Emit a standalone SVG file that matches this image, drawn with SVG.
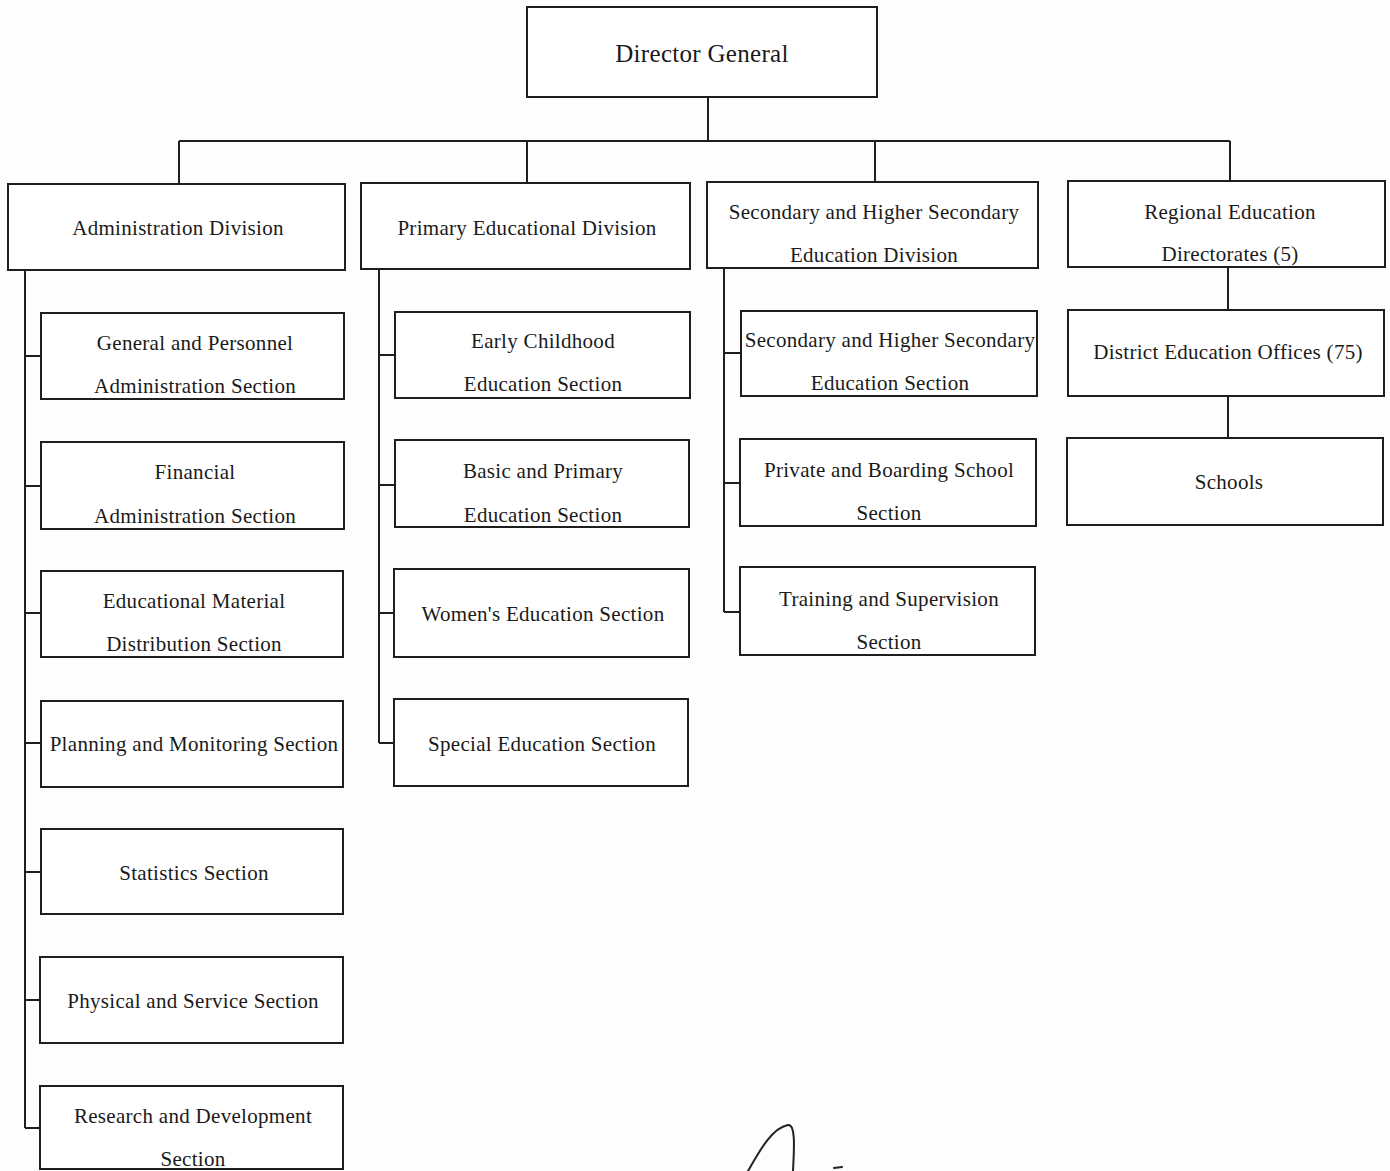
<svg xmlns="http://www.w3.org/2000/svg" width="1390" height="1171" viewBox="0 0 1390 1171">
  <style>
    .box { fill: #ffffff; stroke: #1e1e1e; stroke-width: 2; }
    .lbl { font-family: "Liberation Serif", "Times New Roman", serif; font-size: 21px; letter-spacing: 0.3px; fill: #1a1a1a; text-anchor: middle; }
    .big { font-size: 25px; }
    .wire { fill: none; stroke: #1e1e1e; stroke-width: 2; }
    .ink { fill: none; stroke: #222222; stroke-width: 2; stroke-linecap: round; }
  </style>
  <rect width="1390" height="1171" fill="#fdfdfd"/>

  <!-- connectors -->
  <g id="connectors" class="wire">
    <path d="M708 97 V141 M179 141 H1230 M179 141 V184 M527 141 V183 M875 141 V182 M1230 141 V181"/>
    <!-- administration branch -->
    <path d="M25 270 V1128 M25 356 H41 M25 486 H41 M25 613 H41 M25 743 H41 M25 872 H41 M25 1000 H41 M25 1128 H41"/>
    <!-- primary branch -->
    <path d="M379 269 V743 M379 355 H395 M379 485 H395 M379 613 H395 M379 743 H395"/>
    <!-- secondary branch -->
    <path d="M724 268 V612 M724 353 H741 M724 483 H741 M724 612 H741"/>
    <!-- regional chain -->
    <path d="M1228 267 V310 M1228 396 V438"/>
  </g>

  <g id="director-general">
    <rect class="box" x="527" y="7" width="350" height="90"/>
    <text class="lbl big" x="702" y="62">Director General</text>
  </g>

  <!-- divisions -->
  <g id="administration-division">
    <rect class="box" x="8" y="184" width="337" height="86"/>
    <text class="lbl" x="178" y="235">Administration Division</text>
  </g>
  <g id="primary-division">
    <rect class="box" x="361" y="183" width="329" height="86"/>
    <text class="lbl" x="527" y="235">Primary Educational Division</text>
  </g>
  <g id="secondary-division">
    <rect class="box" x="707" y="182" width="331" height="86"/>
    <text class="lbl" x="874" y="219">Secondary and Higher Secondary</text>
    <text class="lbl" x="874" y="262">Education Division</text>
  </g>
  <g id="regional-directorates">
    <rect class="box" x="1068" y="181" width="317" height="86"/>
    <text class="lbl" x="1230" y="219">Regional Education</text>
    <text class="lbl" x="1230" y="261">Directorates (5)</text>
  </g>

  <!-- administration sections -->
  <g id="general-personnel">
    <rect class="box" x="41" y="313" width="303" height="86"/>
    <text class="lbl" x="195" y="350">General and Personnel</text>
    <text class="lbl" x="195" y="393">Administration Section</text>
  </g>
  <g id="financial-administration">
    <rect class="box" x="41" y="442" width="303" height="87"/>
    <text class="lbl" x="195" y="479">Financial</text>
    <text class="lbl" x="195" y="523">Administration Section</text>
  </g>
  <g id="material-distribution">
    <rect class="box" x="41" y="571" width="302" height="86"/>
    <text class="lbl" x="194" y="608">Educational Material</text>
    <text class="lbl" x="194" y="651">Distribution Section</text>
  </g>
  <g id="planning-monitoring">
    <rect class="box" x="41" y="701" width="302" height="86"/>
    <text class="lbl" x="194" y="751">Planning and Monitoring Section</text>
  </g>
  <g id="statistics">
    <rect class="box" x="41" y="829" width="302" height="85"/>
    <text class="lbl" x="194" y="880">Statistics Section</text>
  </g>
  <g id="physical-service">
    <rect class="box" x="40" y="957" width="303" height="86"/>
    <text class="lbl" x="193" y="1008">Physical and Service Section</text>
  </g>
  <g id="research-development">
    <rect class="box" x="40" y="1086" width="303" height="83"/>
    <text class="lbl" x="193" y="1123">Research and Development</text>
    <text class="lbl" x="193" y="1166">Section</text>
  </g>

  <!-- primary sections -->
  <g id="early-childhood">
    <rect class="box" x="395" y="312" width="295" height="86"/>
    <text class="lbl" x="543" y="348">Early Childhood</text>
    <text class="lbl" x="543" y="391">Education Section</text>
  </g>
  <g id="basic-primary">
    <rect class="box" x="395" y="440" width="294" height="87"/>
    <text class="lbl" x="543" y="478">Basic and Primary</text>
    <text class="lbl" x="543" y="522">Education Section</text>
  </g>
  <g id="womens-education">
    <rect class="box" x="394" y="569" width="295" height="88"/>
    <text class="lbl" x="543" y="621">Women's  Education Section</text>
  </g>
  <g id="special-education">
    <rect class="box" x="394" y="699" width="294" height="87"/>
    <text class="lbl" x="542" y="751">Special  Education Section</text>
  </g>

  <!-- secondary sections -->
  <g id="secondary-section">
    <rect class="box" x="741" y="311" width="296" height="85"/>
    <text class="lbl" x="890" y="347">Secondary and Higher Secondary</text>
    <text class="lbl" x="890" y="390">Education  Section</text>
  </g>
  <g id="private-boarding">
    <rect class="box" x="740" y="439" width="296" height="87"/>
    <text class="lbl" x="889" y="477">Private and Boarding School</text>
    <text class="lbl" x="889" y="520">Section</text>
  </g>
  <g id="training-supervision">
    <rect class="box" x="740" y="567" width="295" height="88"/>
    <text class="lbl" x="889" y="606">Training and Supervision</text>
    <text class="lbl" x="889" y="649">Section</text>
  </g>

  <!-- regional chain -->
  <g id="district-offices">
    <rect class="box" x="1068" y="310" width="316" height="86"/>
    <text class="lbl" x="1228" y="359">District Education Offices (75)</text>
  </g>
  <g id="schools">
    <rect class="box" x="1067" y="438" width="316" height="87"/>
    <text class="lbl" x="1229" y="489">Schools</text>
  </g>

  <!-- pen stroke at the foot of the sheet -->
  <path class="ink" d="M748 1171 C760 1150 772 1128 788 1125 C796 1124 794 1150 793 1171"/>
  <path class="ink" d="M834 1168 L842 1167"/>
</svg>
